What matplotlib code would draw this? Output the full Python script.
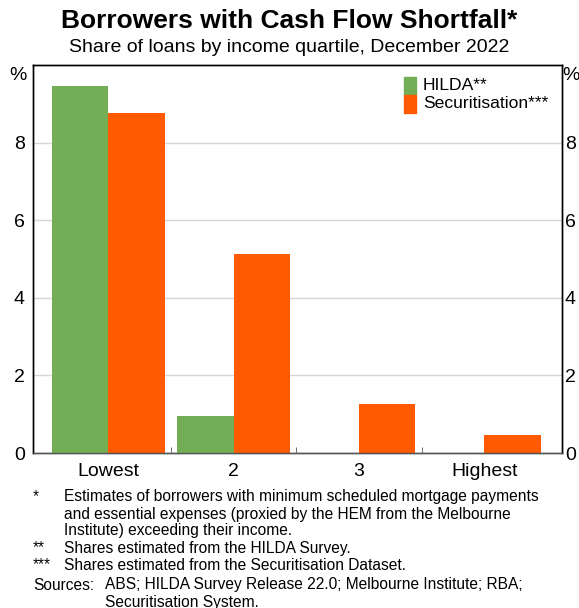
import matplotlib
matplotlib.use("Agg")
import matplotlib.pyplot as plt
import numpy as np
from matplotlib.patches import Rectangle

plt.rcParams['font.family'] = ['Liberation Sans', 'DejaVu Sans']

categories = ["Lowest", "2", "3", "Highest"]
hilda = [9.46, 0.95, 0.0, 0.0]
securitisation = [8.77, 5.14, 1.26, 0.46]
yticks = [0, 2, 4, 6, 8]

green = "#73AE57"
orange = "#FF5A00"

fig = plt.figure(figsize=(5.79, 6.08), dpi=100)
ax = fig.add_axes([33/579, 1-453/608, (562-33)/579, (453-65)/608])

x = np.arange(len(categories))
w = 0.45
ax.bar(x - w/2, hilda, width=w, color=green, zorder=3)
ax.bar(x + w/2, securitisation, width=w, color=orange, zorder=3)

ax.set_xlim(-0.6, 3.62)
ax.set_ylim(0, 10)
ax.set_yticks(yticks)
ax.set_yticklabels([str(t) for t in yticks])
ax.yaxis.grid(True, color="#D6D6D6", linewidth=1, zorder=0)
ax.tick_params(axis='y', length=0, labelsize=14, pad=6)
ax2 = ax.twinx()
ax2.set_ylim(ax.get_ylim())
ax2.set_yticks(yticks)
ax2.set_yticklabels([str(t) for t in yticks])
ax2.tick_params(axis='y', length=0, labelsize=14, pad=2)

ax.set_xticks(x)
ax.set_xticklabels(categories)
ax.tick_params(axis='x', which='major', length=0, labelsize=14, pad=7)
ax.set_xticks([0.5, 1.5, 2.5], minor=True)
ax.tick_params(axis='x', which='minor', direction='in', length=4, color="#555555")
for a in (ax, ax2):
    for s in a.spines.values():
        s.set_color("black")
        s.set_linewidth(1)
    a.spines['bottom'].set_color("#555555")

# % labels
fig.text(18/579, 1-75/608, "%", ha='center', va='center', fontsize=14)
fig.text(571/579, 1-75/608, "%", ha='center', va='center', fontsize=14)

# legend
for i, (lab, col) in enumerate([("HILDA**", green), ("Securitisation***", orange)]):
    yc = 86 + i*18
    fig.patches.append(Rectangle((404/579, 1-(yc+9)/608), 12/579, 18/608,
                                 transform=fig.transFigure, color=col))
    fig.text(423/579, 1-yc/608, lab, ha='left', va='center', fontsize=12.6)

fig.text(0.5, 1-21/608, "Borrowers with Cash Flow Shortfall*", ha='center', va='center',
         fontsize=19, fontweight='bold')
fig.text(0.5, 1-48/608, "Share of loans by income quartile, December 2022", ha='center',
         va='center', fontsize=14)

fs = 11.2
notes = [
    (497, "*", "Estimates of borrowers with minimum scheduled mortgage payments"),
    (514, "", "and essential expenses (proxied by the HEM from the Melbourne"),
    (531, "", "Institute) exceeding their income."),
    (548, "**", "Shares estimated from the HILDA Survey."),
    (565, "***", "Shares estimated from the Securitisation Dataset."),
]
for y, mark, txt in notes:
    if mark:
        fig.text(33/579, 1-y/608, mark, ha='left', va='center', fontsize=fs)
    fig.text(64/579, 1-y/608, txt, ha='left', va='center', fontsize=fs)
fig.text(33/579, 1-585/608, "Sources:", ha='left', va='center', fontsize=fs)
fig.text(105/579, 1-585/608, "ABS; HILDA Survey Release 22.0; Melbourne Institute; RBA;",
         ha='left', va='center', fontsize=fs)
fig.text(105/579, 1-602/608, "Securitisation System.", ha='left', va='center', fontsize=fs)

fig.savefig("out.png", dpi=100)
